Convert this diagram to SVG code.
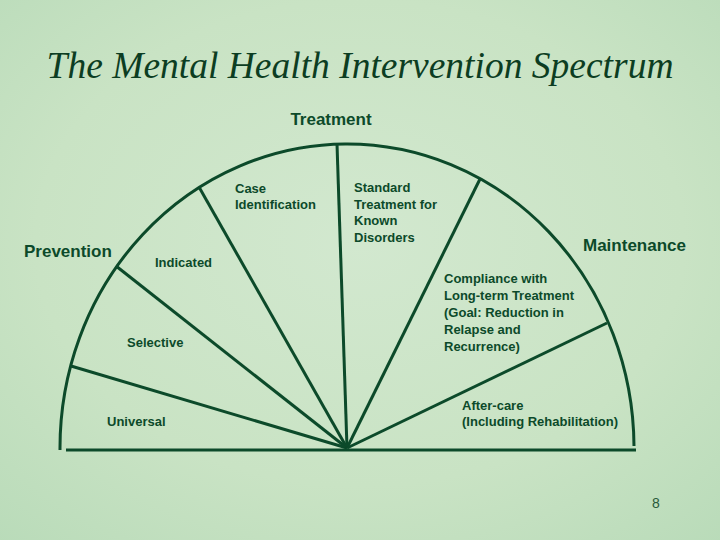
<svg xmlns="http://www.w3.org/2000/svg" width="720" height="540" viewBox="0 0 720 540">
<defs>
<radialGradient id="bg" cx="0.5" cy="0.45" r="0.75">
<stop offset="0" stop-color="#d2e8cf"/>
<stop offset="0.6" stop-color="#c9e3c4"/>
<stop offset="1" stop-color="#b9dbb9"/>
</radialGradient>
<style>
.ln{stroke:#0c4a2a;stroke-width:3;fill:none}
.t{font-family:"Liberation Sans",Arial,sans-serif;font-weight:bold;fill:#0c4a2a}
.s{font-size:13px}
.b{font-size:17px}
</style>
</defs>
<rect width="720" height="540" fill="url(#bg)"/>
<text x="360" y="78" text-anchor="middle" font-family="Liberation Serif,serif" font-style="italic" font-size="37.5" fill="#0c3d22">The Mental Health Intervention Spectrum</text>
<g id="connectors">
<path class="ln" d="M60,450 A287,304 0 0 1 634,446"/>
<line class="ln" x1="66" y1="450" x2="636" y2="450"/>
<line class="ln" x1="347" y1="448" x2="71" y2="366"/>
<line class="ln" x1="347" y1="448" x2="116" y2="266"/>
<line class="ln" x1="347" y1="448" x2="199" y2="187"/>
<line class="ln" x1="347" y1="448" x2="337" y2="144"/>
<line class="ln" x1="347" y1="448" x2="480" y2="179"/>
<line class="ln" x1="347" y1="448" x2="607" y2="323"/>
</g>
<g id="treatment"><text class="t b" x="331" y="125" text-anchor="middle">Treatment</text></g>
<g id="prevention"><text class="t b" x="24" y="257">Prevention</text></g>
<g id="maintenance"><text class="t b" x="583" y="251">Maintenance</text></g>
<g id="case"><text class="t s" x="235" y="193">Case</text><text class="t s" x="235" y="209">Identification</text></g>
<g id="standard"><text class="t s" x="354" y="192">Standard</text><text class="t s" x="354" y="209">Treatment for</text><text class="t s" x="354" y="225">Known</text><text class="t s" x="354" y="242">Disorders</text></g>
<g id="indicated"><text class="t s" x="155" y="267">Indicated</text></g>
<g id="selective"><text class="t s" x="127" y="347">Selective</text></g>
<g id="universal"><text class="t s" x="107" y="426">Universal</text></g>
<g id="compliance"><text class="t s" x="444" y="283">Compliance with</text><text class="t s" x="444" y="300">Long-term Treatment</text><text class="t s" x="444" y="317">(Goal: Reduction  in</text><text class="t s" x="444" y="334">Relapse and</text><text class="t s" x="444" y="351">Recurrence)</text></g>
<g id="aftercare"><text class="t s" x="462" y="410">After-care</text><text class="t s" x="462" y="426">(Including Rehabilitation)</text></g>
<text x="656" y="508" text-anchor="middle" font-family="Liberation Sans,sans-serif" font-size="14" fill="#2a5a3a">8</text>
</svg>
